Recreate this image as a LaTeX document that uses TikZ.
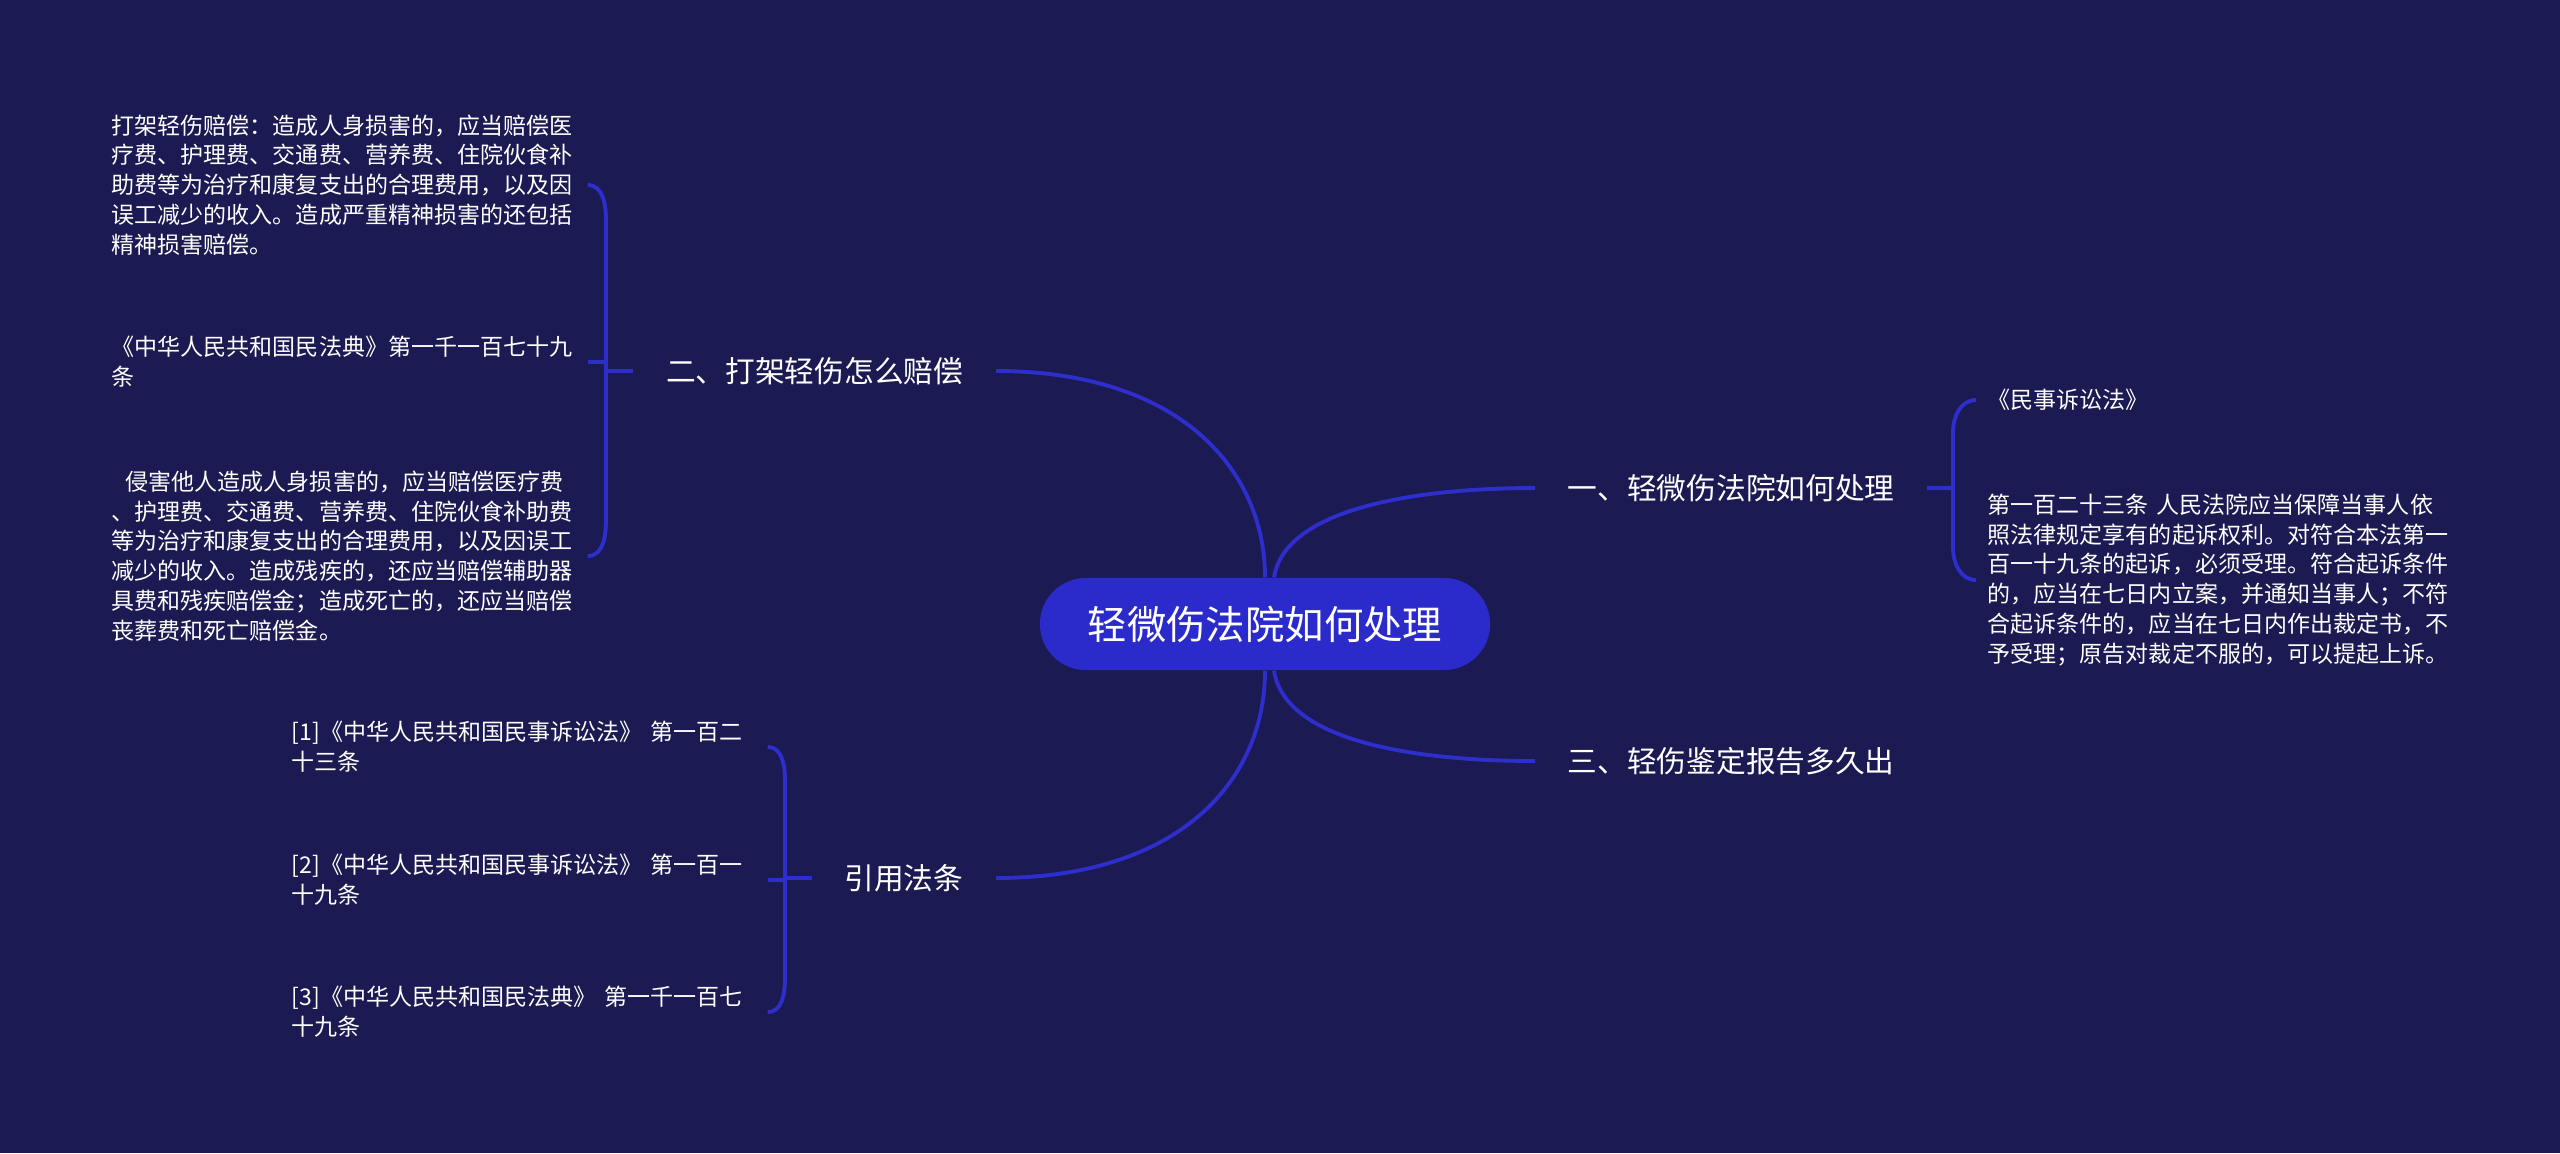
\documentclass[tikz,border=0pt]{standalone}
\usepackage{fontspec}
\setmainfont{Noto Sans CJK SC}
\usetikzlibrary{positioning, calc}
\definecolor{bgnavy}{RGB}{27,26,82}
\definecolor{linkblue}{RGB}{46,46,205}
\definecolor{rootblue}{RGB}{43,43,204}
\tikzset{
  root/.style={fill=rootblue, rounded corners=0.46cm, minimum height=0.92cm, minimum width=4.5cm, text=white, font=\fontsize{11.2pt}{13pt}\selectfont},
  branch/.style={text=white, inner xsep=0.32cm, inner ysep=0pt, font=\fontsize{8.45pt}{10pt}\selectfont},
  leaf/.style={text=white, text width=4.64cm, align=left, inner xsep=0.11cm, inner ysep=0pt, font=\fontsize{6.55pt}{8.5pt}\selectfont},
  link/.style={draw=linkblue, line width=1.1pt}
}

\begin{document}
\begin{tikzpicture}[x=0.01cm, y=-0.01cm]
\fill[bgnavy] (0,0) rectangle (2560,1153);
\useasboundingbox (0,0) rectangle (2560,1153);

\node[root] (root) at (1265,624) {轻微伤法院如何处理};
\node[branch, anchor=west] (proc) at (1535,488) {一、轻微伤法院如何处理};
\node[branch, anchor=west] (report) at (1535,761) {三、轻伤鉴定报告多久出};
\node[branch, anchor=east] (comp) at (996,371) {二、打架轻伤怎么赔偿};
\node[branch, anchor=east] (cite) at (996,878) {引用法条};

% leaves
\node[leaf, anchor=west] (comp1) at (100,185) {打架轻伤赔偿：造成人身损害的，应当赔偿医\\疗费、护理费、交通费、营养费、住院伙食补\\助费等为治疗和康复支出的合理费用，以及因\\误工减少的收入。造成严重精神损害的还包括\\精神损害赔偿。};
\node[leaf, anchor=west] (comp2) at (100,362) {《中华人民共和国民法典》第一千一百七十九\\条};
\node[leaf, anchor=west] (comp3) at (100,556) {\hspace*{0.14cm}侵害他人造成人身损害的，应当赔偿医疗费\\、护理费、交通费、营养费、住院伙食补助费\\等为治疗和康复支出的合理费用，以及因误工\\减少的收入。造成残疾的，还应当赔偿辅助器\\具费和残疾赔偿金；造成死亡的，还应当赔偿\\丧葬费和死亡赔偿金。};
\node[leaf, anchor=west] (cite1) at (280,747) {[1]《中华人民共和国民事诉讼法》 第一百二\\十三条};
\node[leaf, anchor=west] (cite2) at (280,880) {[2]《中华人民共和国民事诉讼法》 第一百一\\十九条};
\node[leaf, anchor=west] (cite3) at (280,1012) {[3]《中华人民共和国民法典》 第一千一百七\\十九条};
\node[leaf, anchor=west] (proc1) at (1976,400) {《民事诉讼法》};
\node[leaf, anchor=west] (proc2) at (1976,580) {第一百二十三条 人民法院应当保障当事人依\\照法律规定享有的起诉权利。对符合本法第一\\百一十九条的起诉，必须受理。符合起诉条件\\的，应当在七日内立案，并通知当事人；不符\\合起诉条件的，应当在七日内作出裁定书，不\\予受理；原告对裁定不服的，可以提起上诉。};

% main curves
\draw[link] (comp.east) .. controls (1180,371) and (1265,470) .. (root.north);
\draw[link] (cite.east) .. controls (1180,878) and (1265,780) .. (root.south);
\draw[link] ($(root.north)+(9,0)$) .. controls (1285,510) and (1410,488) .. (proc.west);
\draw[link] ($(root.south)+(9,0)$) .. controls (1285,740) and (1410,761) .. (report.west);

% brackets
\coordinate (compspine) at (606,371);
\coordinate (citespine) at (785,878);
\coordinate (procspine) at (1953,488);

\draw[link] (comp1.east) to[out=0, in=90] ($(compspine |- comp1.east)+(0,36)$) -- ($(compspine |- comp3.east)+(0,-36)$) to[out=-90, in=0] (comp3.east);
\draw[link] (comp2.east) -- (compspine |- comp2.east);
\draw[link] (compspine) -- (comp.west);

\draw[link] (cite1.east) to[out=0, in=90] ($(citespine |- cite1.east)+(0,34)$) -- ($(citespine |- cite3.east)+(0,-34)$) to[out=-90, in=0] (cite3.east);
\draw[link] (cite2.east) -- (citespine |- cite2.east);
\draw[link] (citespine) -- (cite.west);

\draw[link] (proc1.west) to[out=180, in=90] ($(procspine |- proc1.west)+(0,32)$) -- ($(procspine |- proc2.west)+(0,-32)$) to[out=-90, in=180] (proc2.west);
\draw[link] (proc.east) -- (procspine);
\end{tikzpicture}
\end{document}
